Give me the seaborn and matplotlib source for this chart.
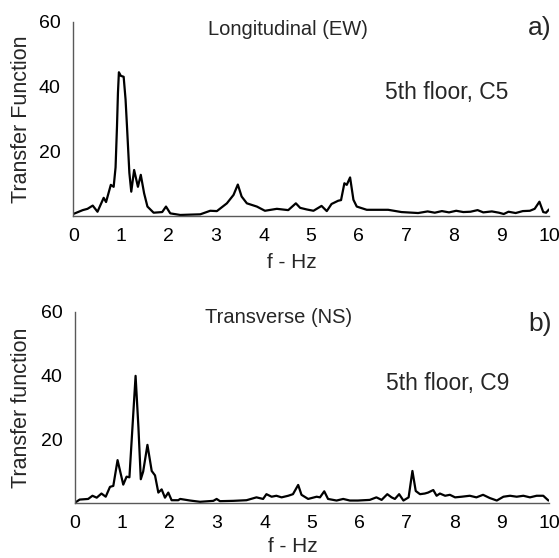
import matplotlib
matplotlib.use('Agg')
import matplotlib.pyplot as plt
import seaborn as sns

sns.set_style('white')
plt.rcParams['font.family'] = ['Liberation Sans', 'DejaVu Sans']

# panel a) longitudinal (EW), 5th floor C5
f_ew = [0, 0.1, 0.2, 0.3, 0.41, 0.51, 0.64, 0.69, 0.79, 0.85, 0.89, 0.92, 0.94, 0.96, 1.0,
        1.06, 1.1, 1.13, 1.18, 1.22, 1.28, 1.36, 1.42, 1.49, 1.56, 1.69, 1.87, 1.95, 2.04,
        2.25, 2.45, 2.67, 2.88, 3.02, 3.23, 3.37, 3.46, 3.54, 3.65, 3.86, 4.03, 4.28, 4.52,
        4.68, 4.77, 4.91, 5.05, 5.22, 5.33, 5.43, 5.57, 5.63, 5.70, 5.75, 5.82, 5.89,
        5.96, 6.17, 6.62, 6.9, 7.25, 7.45, 7.6, 7.75, 7.9, 8.05, 8.2, 8.35, 8.5, 8.62,
        8.8, 8.95, 9.05, 9.15, 9.3, 9.45, 9.6, 9.7, 9.8, 9.88, 9.94, 10.0]
tf_ew = [0.6, 1.2, 1.8, 2.2, 3.2, 1.3, 5.6, 4.3, 9.6, 9.0, 15.0, 27.7, 38.0, 44.4, 43.3,
         43.0, 36.0, 27.7, 13.3, 7.5, 14.2, 9.0, 12.7, 7.0, 2.9, 1.0, 1.2, 2.9, 0.8,
         0.3, 0.4, 0.5, 1.6, 1.5, 3.9, 6.5, 9.7, 6.0, 3.9, 2.9, 1.6, 2.2, 1.8,
         3.9, 2.5, 2.0, 1.6, 3.1, 1.5, 3.7, 4.7, 4.9, 10.1, 9.6, 11.9, 5.0,
         2.9, 1.9, 1.9, 1.2, 0.9, 1.4, 1.0, 1.5, 1.1, 1.6, 1.2, 1.3, 1.8, 1.1,
         1.4, 1.0, 0.6, 1.3, 0.9, 1.5, 1.6, 2.2, 4.4, 1.2, 1.0, 2.0]

# panel b) transverse (NS), 5th floor C9
f_ns = [0, 0.1, 0.28, 0.37, 0.46, 0.56, 0.65, 0.74, 0.81, 0.9, 1.02, 1.09, 1.15, 1.28,
        1.34, 1.39, 1.44, 1.53, 1.62, 1.69, 1.76, 1.83, 1.9, 1.97, 2.04, 2.18, 2.22,
        2.43, 2.64, 2.92, 2.99, 3.06, 3.34, 3.62, 3.83, 3.97, 4.04, 4.15, 4.25, 4.36,
        4.5, 4.6, 4.71, 4.78, 4.92, 5.1, 5.17, 5.26, 5.34, 5.52, 5.66, 5.8, 5.97,
        6.22, 6.36, 6.47, 6.59, 6.68, 6.75, 6.84, 6.93, 7.04, 7.12, 7.19, 7.28, 7.38,
        7.45, 7.56, 7.63, 7.7, 7.81, 7.91, 8.02, 8.16, 8.33, 8.47, 8.61, 8.75, 8.9,
        9.04, 9.18, 9.32, 9.46, 9.6, 9.74, 9.88, 9.99]
tf_ns = [0.0, 1.0, 1.2, 2.2, 1.6, 2.9, 1.9, 5.0, 5.3, 13.4, 5.7, 8.2, 8.0, 39.9,
         23.7, 7.4, 9.8, 18.2, 10.0, 8.6, 3.2, 4.2, 1.6, 3.2, 0.8, 0.8, 1.2,
         0.7, 0.3, 0.6, 1.2, 0.5, 0.6, 0.8, 1.7, 1.2, 2.7, 1.9, 2.2, 1.7,
         2.2, 2.7, 5.6, 2.5, 1.2, 1.9, 1.7, 3.6, 1.2, 0.7, 1.2, 0.7, 0.7,
         0.9, 1.7, 0.9, 2.7, 1.7, 1.2, 2.7, 0.7, 1.7, 10.0, 3.7, 2.7, 2.9,
         3.2, 4.0, 2.2, 2.9, 2.2, 2.5, 1.7, 1.9, 2.2, 1.7, 2.5, 1.5, 0.7,
         1.9, 2.2, 1.9, 2.2, 1.7, 2.2, 2.2, 0.7]

x_ticks = [0, 1, 2, 3, 4, 5, 6, 7, 8, 9, 10]
y_ticks = [20, 40, 60]

fig = plt.figure(figsize=(5.59, 5.58), dpi=100)
ax1 = fig.add_axes([0.131, 0.613, 0.851, 0.348])
ax2 = fig.add_axes([0.134, 0.099, 0.848, 0.342])

panels = [
    (ax1, f_ew, tf_ew, 'Transfer Function', 'Longitudinal (EW)', 4.52, 57.5,
     '5th floor, C5', 38.0, 'a)', 58.1, -0.086, -0.19),
    (ax2, f_ns, tf_ns, 'Transfer function', 'Transverse (NS)', 4.30, 58.2,
     '5th floor, C9', 37.4, 'b)', 56.3, -0.091, -0.178),
]

for ax, f, tf, ylab, title, tx, ty, floor, fy, tag, tagy, ylx, xly in panels:
    sns.lineplot(x=f, y=tf, ax=ax, color='black', linewidth=1.6, sort=False)
    ax.set_xlim(0, 10)
    ax.set_ylim(0, 60)
    ax.set_xticks(x_ticks)
    ax.set_yticks(y_ticks)
    ax.tick_params(direction='in', length=4, width=0.8, colors='0.3',
                   labelcolor='black', labelsize=14, pad=9)
    sns.despine(ax=ax)
    for s in ['left', 'bottom']:
        ax.spines[s].set_color('0.35')
        ax.spines[s].set_linewidth(1.0)
    ax.set_ylabel(ylab, fontsize=15.5)
    ax.yaxis.set_label_coords(ylx, 0.5)
    ax.set_xlabel('f - Hz', fontsize=15)
    ax.xaxis.set_label_coords(0.46, xly)
    ax.text(tx, ty, title, fontsize=14.5, ha='center', va='center')
    ax.text(7.86, fy, floor, fontsize=16.5, ha='center', va='center')
    ax.text(9.81, tagy, tag, fontsize=19, ha='center', va='center', clip_on=False)

fig.savefig('out.png', dpi=100)
